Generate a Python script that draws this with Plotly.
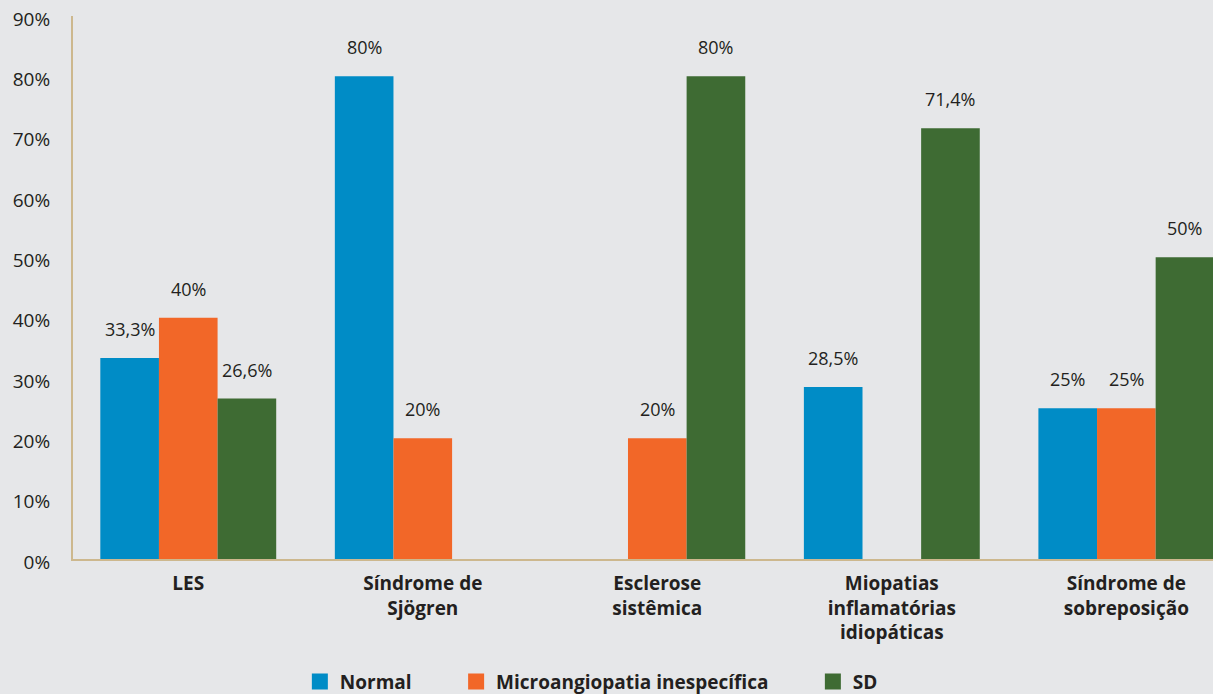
import plotly.graph_objects as go

categories = ["LES", "Síndrome de<br>Sjögren", "Esclerose<br>sistêmica",
              "Miopatias<br>inflamatórias<br>idiopáticas", "Síndrome de<br>sobreposição"]
series_names = ["Normal", "Microangiopatia inespecífica", "SD"]
normal = [33.3, 80, 0, 28.5, 25]
micro = [40, 20, 20, 0, 25]
sd = [26.6, 0, 80, 71.4, 50]
colors = ["#008cc6", "#f26728", "#3e6b33"]
y_ticks = [0, 10, 20, 30, 40, 50, 60, 70, 80, 90]

series = [normal, micro, sd]
xpos = list(range(len(categories)))
FONT = "Open Sans"
TXT = "#231f20"

def fmt(v):
    return f"{v:g}".replace(".", ",") + "%"

fig = go.Figure()
for name, vals, col in zip(series_names, series, colors):
    fig.add_trace(go.Bar(x=xpos, y=vals, name=name, showlegend=False,
                         marker=dict(color=col, line=dict(width=0))))
# legend entries with larger square symbols
for name, col in zip(series_names, colors):
    fig.add_trace(go.Scatter(x=[None], y=[None], mode="markers", name=name + "\u00a0" * 8,
                             marker=dict(symbol="square", size=20, color=col)))

annotations = []
for k, vals in enumerate(series):
    for i, v in enumerate(vals):
        if v > 0:
            annotations.append(dict(x=i + (k - 1) * 0.25, y=v, xref="x", yref="y",
                                    text=fmt(v), showarrow=False, yanchor="middle", yshift=29,
                                    font=dict(family=FONT, size=18, color=TXT)))

fig.update_layout(
    width=1213, height=694,
    paper_bgcolor="#e6e7e9", plot_bgcolor="#e6e7e9",
    margin=dict(l=73, r=0, t=16, b=135),
    barmode="group", bargap=0.25, bargroupgap=0,
    font=dict(family=FONT, size=18, color=TXT),
    annotations=annotations,
    showlegend=True,
    legend=dict(orientation="h", x=0.504, xanchor="center", xref="container",
                y=0.045, yanchor="top", yref="container",
                font=dict(family=FONT, size=19, color=TXT, weight="bold"),
                itemsizing="trace", traceorder="normal", bgcolor="rgba(0,0,0,0)"),
    xaxis=dict(tickvals=xpos, ticktext=[f"<b>{c}</b>" for c in categories],
               range=[-0.4915, 4.3695], showgrid=False, zeroline=False,
               showline=True, linecolor="#cdb88e", linewidth=2, ticks="",
               ticklabelstandoff=6,
               tickfont=dict(family=FONT, size=19, color=TXT)),
    yaxis=dict(range=[0, 90], tickvals=y_ticks, ticktext=[f"{t}%" for t in y_ticks],
               showgrid=False, zeroline=False, showline=True, linecolor="#cdb88e",
               linewidth=2, ticks="", ticklabelstandoff=17, ticklabelshift=3,
               tickfont=dict(family=FONT, size=19, color=TXT)),
)

fig.write_html("out.html")
